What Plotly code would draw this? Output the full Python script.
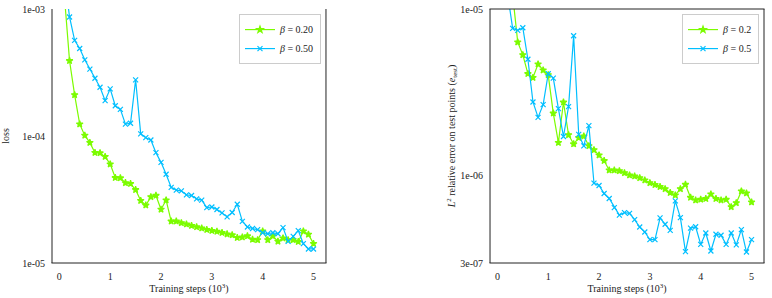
import math
import plotly.graph_objects as go

steps = [0.1, 0.2, 0.3, 0.4, 0.5, 0.6, 0.7, 0.8, 0.9, 1.0,
         1.1, 1.2, 1.3, 1.4, 1.5, 1.6, 1.7, 1.8, 1.9, 2.0,
         2.1, 2.2, 2.3, 2.4, 2.5, 2.6, 2.7, 2.8, 2.9, 3.0,
         3.1, 3.2, 3.3, 3.4, 3.5, 3.6, 3.7, 3.8, 3.9, 4.0,
         4.1, 4.2, 4.3, 4.4, 4.5, 4.6, 4.7, 4.8, 4.9, 5.0]

loss_beta020 = [1.25e-3, 3.91e-4, 2.11e-4, 1.24e-4, 1.01e-4, 8.86e-5, 7.39e-5, 7.35e-5, 6.87e-5, 6.01e-5,
                4.69e-5, 4.67e-5, 4.28e-5, 4.21e-5, 3.77e-5, 3.10e-5, 2.85e-5, 3.32e-5, 3.40e-5, 2.64e-5,
                3.13e-5, 2.13e-5, 2.13e-5, 2.07e-5, 2.02e-5, 1.97e-5, 1.92e-5, 1.88e-5, 1.83e-5, 1.80e-5,
                1.77e-5, 1.73e-5, 1.69e-5, 1.66e-5, 1.58e-5, 1.60e-5, 1.63e-5, 1.53e-5, 1.52e-5, 1.78e-5,
                1.52e-5, 1.63e-5, 1.48e-5, 1.57e-5, 1.52e-5, 1.52e-5, 1.47e-5, 1.78e-5, 1.68e-5, 1.42e-5]

loss_beta050 = [1.8e-3, 8.65e-4, 5.66e-4, 4.89e-4, 3.98e-4, 3.36e-4, 2.85e-4, 2.42e-4, 1.90e-4, 2.35e-4,
                1.73e-4, 1.62e-4, 1.24e-4, 1.26e-4, 2.77e-4, 1.04e-4, 9.7e-5, 9.3e-5, 7.39e-5, 6.2e-5,
                5.0e-5, 3.94e-5, 3.75e-5, 3.7e-5, 3.44e-5, 3.4e-5, 3.2e-5, 3.13e-5, 2.73e-5, 2.76e-5,
                2.64e-5, 2.48e-5, 2.31e-5, 2.5e-5, 2.9e-5, 2.13e-5, 1.92e-5, 1.87e-5, 1.83e-5, 1.73e-5,
                1.70e-5, 1.73e-5, 1.70e-5, 1.9e-5, 1.48e-5, 1.62e-5, 1.8e-5, 1.42e-5, 1.29e-5, 1.29e-5]

err_beta02 = [3.0e-5, 2.0e-5, 1.22e-5, 6.33e-6, 5.31e-6, 4.09e-6, 3.88e-6, 4.67e-6, 4.30e-6, 4.03e-6,
              2.37e-6, 1.58e-6, 2.76e-6, 1.76e-6, 1.55e-6, 1.69e-6, 1.73e-6, 1.51e-6, 1.43e-6, 1.33e-6,
              1.23e-6, 1.08e-6, 1.08e-6, 1.07e-6, 1.04e-6, 1.01e-6, 9.95e-7, 9.72e-7, 9.41e-7, 9.07e-7,
              8.83e-7, 8.59e-7, 8.35e-7, 7.91e-7, 7.66e-7, 8.35e-7, 8.87e-7, 7.41e-7, 7.14e-7, 7.21e-7,
              7.28e-7, 7.76e-7, 7.28e-7, 7.14e-7, 7.21e-7, 6.51e-7, 6.88e-7, 8.09e-7, 7.87e-7, 6.95e-7]

err_beta05 = [2.0e-5, 1.2e-5, 7.65e-6, 7.44e-6, 7.72e-6, 5.0e-6, 2.77e-6, 2.24e-6, 2.67e-6, 4.09e-6,
              3.85e-6, 2.53e-6, 1.72e-6, 2.60e-6, 6.91e-6, 1.77e-6, 1.51e-6, 2.0e-6, 9.03e-7, 8.75e-7,
              7.83e-7, 7.31e-7, 6.45e-7, 5.81e-7, 6.02e-7, 5.95e-7, 5.46e-7, 4.93e-7, 4.60e-7, 4.14e-7,
              4.14e-7, 5.59e-7, 5.12e-7, 4.71e-7, 7.08e-7, 5.61e-7, 3.51e-7, 4.86e-7, 4.95e-7, 3.88e-7,
              4.54e-7, 3.54e-7, 4.46e-7, 4.40e-7, 3.88e-7, 4.54e-7, 3.85e-7, 4.76e-7, 3.49e-7, 4.14e-7]

x_ticks = [0, 1, 2, 3, 4, 5]
loss_ticks = [1e-5, 1e-4, 1e-3]
loss_ticktext = ["1e-05", "1e-04", "1e-03"]
loss_minor = [2e-5, 3e-5, 4e-5, 5e-5, 6e-5, 7e-5, 8e-5, 9e-5,
              2e-4, 3e-4, 4e-4, 5e-4, 6e-4, 7e-4, 8e-4, 9e-4]
err_ticks = [3e-7, 1e-6, 1e-5]
err_ticktext = ["3e-07", "1e-06", "1e-05"]
err_minor = [4e-7, 5e-7, 6e-7, 7e-7, 8e-7, 9e-7,
             2e-6, 3e-6, 4e-6, 5e-6, 6e-6, 7e-6, 8e-6, 9e-6]

x_range = [-0.145, 5.245]
loss_range = [1e-5, 1e-3]
err_range = [3e-7, 1e-5]

GREEN = "#7CFC00"
BLUE = "#00BFFF"
FONT = "Liberation Serif, DejaVu Serif, serif"
INK = "#222222"

# plot-area size in px (used to size the frame and tick marks)
AREA_W, AREA_H = 274, 253
# plotly draws line-shaped markers 1.4 x their size long
LINE_SYMBOL_SCALE = 1.4

fig = go.Figure()


def add(x, y, name, color, symbol, size, xa, ya, legend):
    fig.add_trace(go.Scatter(
        x=x, y=y, name=name, mode="lines+markers",
        line=dict(color=color, width=1.2),
        marker=dict(symbol=symbol, size=size, color=color,
                    line=dict(color=color, width=1.2)),
        xaxis=xa, yaxis=ya, legend=legend))


add(steps, loss_beta020, "<i>β</i> = 0.20", GREEN, "star", 5, "x", "y", "legend")
add(steps, loss_beta050, "<i>β</i> = 0.50", BLUE, "x-thin", 5, "x", "y", "legend")
add(steps, err_beta02, "<i>β</i> = 0.2", GREEN, "star", 5, "x2", "y2", "legend2")
add(steps, err_beta05, "<i>β</i> = 0.5", BLUE, "x-thin", 5, "x2", "y2", "legend2")


def frame_and_ticks(xa, ya, xr, yr, xt, yt, ym):
    """Axes box and outward tick marks built from line-shaped markers."""
    x_per_px = (xr[1] - xr[0]) / AREA_W
    dec_per_px = (math.log10(yr[1]) - math.log10(yr[0])) / AREA_H
    xmid = (xr[0] + xr[1]) / 2
    ymid = math.sqrt(yr[0] * yr[1])

    def marks(x, y, symbol, length_px, width):
        fig.add_trace(go.Scatter(
            x=x, y=y, mode="markers", xaxis=xa, yaxis=ya, showlegend=False,
            hoverinfo="skip", cliponaxis=False,
            marker=dict(symbol=symbol, size=length_px / LINE_SYMBOL_SCALE, color=INK,
                        line=dict(color=INK, width=width))))

    # box
    marks([xr[0], xr[1]], [ymid, ymid], "line-ns", AREA_H + 1, 1)
    marks([xmid, xmid], [yr[0], yr[1]], "line-ew", AREA_W + 1, 1)
    # major ticks (3.5 px long, outside)
    marks(xt, [yr[0] * 10 ** (-1.75 * dec_per_px)] * len(xt), "line-ns", 3.5, 1)
    marks([xr[0] - 1.75 * x_per_px] * len(yt), yt, "line-ew", 3.5, 1)
    # minor ticks (2 px long, outside)
    marks([xr[0] - 1.0 * x_per_px] * len(ym), ym, "line-ew", 2, 0.8)


frame_and_ticks("x", "y", x_range, loss_range, x_ticks, loss_ticks, loss_minor)
frame_and_ticks("x2", "y2", x_range, err_range, x_ticks, err_ticks, err_minor)

axis_common = dict(showline=False, ticks="outside", ticklen=4, tickwidth=1,
                   tickcolor="rgba(0,0,0,0)", showgrid=False, zeroline=False,
                   automargin=False, tickfont=dict(family=FONT, size=10, color=INK))

xtitle = dict(text="Training steps (10<sup>3</sup>)",
              font=dict(family=FONT, size=10, color=INK), standoff=2)

fig.update_layout(
    width=772, height=298,
    margin=dict(l=52, r=8, t=9, b=35),
    paper_bgcolor="white", plot_bgcolor="white",
    font=dict(family=FONT, size=10, color=INK),
    xaxis=dict(domain=[0, 0.3848], range=x_range, tickvals=x_ticks,
               title=xtitle, anchor="y", **axis_common),
    yaxis=dict(domain=[0, 1], type="log", range=[math.log10(v) for v in loss_range],
               tickvals=loss_ticks, ticktext=loss_ticktext, anchor="x",
               title=dict(text="loss", font=dict(family=FONT, size=10, color=INK), standoff=14),
               **axis_common),
    xaxis2=dict(domain=[0.6152, 1], range=x_range, tickvals=x_ticks,
                title=xtitle, anchor="y2", **axis_common),
    yaxis2=dict(domain=[0, 1], type="log", range=[math.log10(v) for v in err_range],
                tickvals=err_ticks, ticktext=err_ticktext, anchor="x2",
                title=dict(text="<i>L</i><sup>2</sup> relative error on test points (<i>e</i><sub>test</sub>)",
                           font=dict(family=FONT, size=10, color=INK), standoff=2),
                **axis_common),
    legend=dict(x=0.3778, y=0.98, xanchor="right", yanchor="top",
                bgcolor="white", bordercolor="#cccccc", borderwidth=1,
                font=dict(family=FONT, size=10), itemwidth=30, tracegroupgap=0),
    legend2=dict(x=0.993, y=0.98, xanchor="right", yanchor="top",
                 bgcolor="white", bordercolor="#cccccc", borderwidth=1,
                 font=dict(family=FONT, size=10), itemwidth=30, tracegroupgap=0),
    showlegend=True,
)

fig.write_html("out.html", post_script="document.body.style.margin='0';",
               config={"displayModeBar": False})
